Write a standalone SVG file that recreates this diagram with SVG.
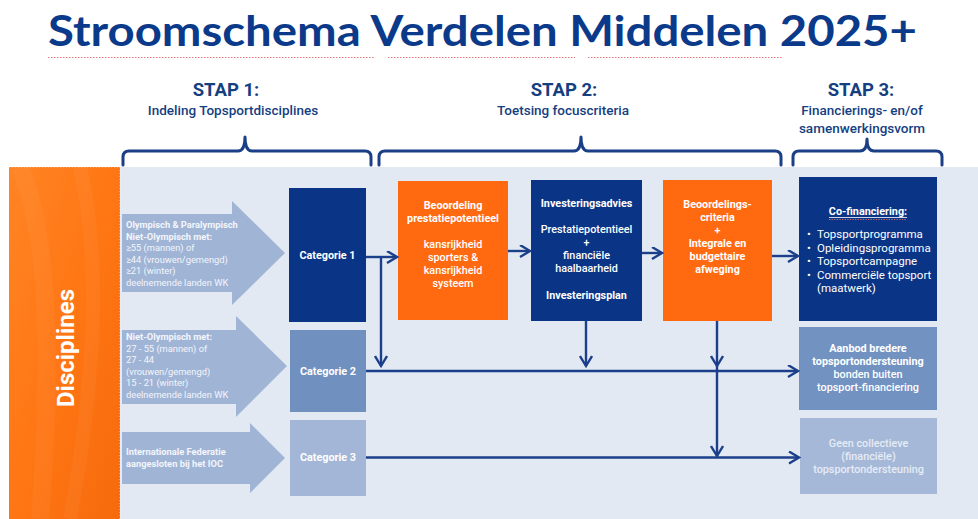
<svg xmlns="http://www.w3.org/2000/svg" width="978" height="519" viewBox="0 0 978 519">
<defs>
<linearGradient id="og" x1="0" y1="0" x2="1" y2="1">
<stop offset="0" stop-color="#ff8424"/>
<stop offset="0.5" stop-color="#ff7614"/>
<stop offset="1" stop-color="#f66a0c"/>
</linearGradient>
<marker id="ah" markerUnits="userSpaceOnUse" markerWidth="14" markerHeight="14" refX="11" refY="6.5" orient="auto">
<path d="M1,0.5 L11,6.5 L1,12.5" fill="none" stroke="#1b3f8b" stroke-width="2.4"/>
</marker>
<style>
.t{font-family:Roboto,"Liberation Sans",sans-serif}
.title{font-family:Lato,"Open Sans",sans-serif;font-weight:bold;font-size:42px;fill:#0b3a8a}
.stap{font-family:Roboto,"Liberation Sans",sans-serif;font-weight:bold;font-size:18.5px;fill:#15407f;text-anchor:middle}
.sub{font-family:Roboto,"Liberation Sans",sans-serif;font-weight:500;font-size:13.5px;fill:#15407f;text-anchor:middle}
.brace{fill:none;stroke:#1a3f86;stroke-width:3;stroke-linejoin:round;stroke-linecap:round}
.bigarrow{fill:#a0b4d6}
.at{font-family:Roboto,"Liberation Sans",sans-serif;font-size:9.3px;fill:#f3f6fb}
.b{font-weight:bold}
.m{font-weight:500}
.bt{font-family:Roboto,"Liberation Sans",sans-serif;font-size:10.8px;fill:#ffffff;text-anchor:middle}
.cat{font-family:Roboto,"Liberation Sans",sans-serif;font-size:10.8px;font-weight:bold;fill:#ffffff;text-anchor:middle}
.conn{fill:none;stroke:#1b3f8b;stroke-width:2.4}
.navy{fill:#0a3486}
.orange{fill:#ff6a10}
</style>
</defs>

<rect width="978" height="519" fill="#ffffff"/>

<g id="title">
<text class="title" x="48" y="46" textLength="869" lengthAdjust="spacingAndGlyphs">Stroomschema Verdelen Middelen 2025+</text>
<path d="M48,57.5 H375 M388,57.5 H575 M588,57.5 H783" stroke="#e07a7a" stroke-width="1.2" stroke-dasharray="1.5 1.5" fill="none"/>
</g>

<g id="stap1">
<text class="stap" x="226" y="96">STAP 1:</text>
<text class="sub" x="233" y="115">Indeling Topsportdisciplines</text>
<path class="brace" d="M123,165 V157 Q123,151 129,151 H238 Q245,151 245,137 Q245,151 252,151 H365 Q371,151 371,157 V165"/>
</g>
<g id="stap2">
<text class="stap" x="564" y="96">STAP 2:</text>
<text class="sub" x="563" y="115">Toetsing focuscriteria</text>
<path class="brace" d="M379,165 V157 Q379,151 385,151 H574 Q581,151 581,137 Q581,151 588,151 H775 Q781,151 781,157 V165"/>
</g>
<g id="stap3">
<text class="stap" x="861" y="96">STAP 3:</text>
<text class="sub" x="862" y="115">Financierings- en/of</text>
<text class="sub" x="862" y="133">samenwerkingsvorm</text>
<path class="brace" d="M793,165 V157 Q793,151 799,151 H860 Q867,151 867,139 Q867,151 874,151 H936 Q942,151 942,157 V165"/>
</g>

<rect x="120" y="167" width="858" height="352" fill="#e3e9f2"/>

<g id="disciplines">
<rect x="9" y="167" width="111" height="352" fill="url(#og)"/>
<path d="M20,167 Q60,260 40,519" stroke="#ffffff" stroke-opacity="0.04" stroke-width="18" fill="none"/>
<path d="M80,167 Q110,300 70,519" stroke="#ffffff" stroke-opacity="0.04" stroke-width="14" fill="none"/>
<path d="M9,167 H120 V519" stroke="#ffffff" stroke-opacity="0.6" stroke-width="1" stroke-dasharray="1 2" fill="none"/>
<text class="t" x="0" y="0" transform="translate(74,348) rotate(-90)" font-size="24" font-weight="bold" fill="#ffffff" text-anchor="middle">Disciplines</text>
</g>

<g id="arrow1">
<path class="bigarrow" d="M122,214 H232 V201 L285,253 L232,305 V292 H122 Z"/>
<text class="at" x="126">
<tspan x="126" y="228" class="b">Olympisch &amp; Paralympisch</tspan>
<tspan x="126" y="239.5" class="b">Niet-Olympisch met:</tspan>
<tspan x="126" y="251">≥55 (mannen) of</tspan>
<tspan x="126" y="262.5">≥44 (vrouwen/gemengd)</tspan>
<tspan x="126" y="274">≥21 (winter)</tspan>
<tspan x="126" y="285.5">deelnemende landen WK</tspan>
</text>
</g>

<g id="arrow2">
<path class="bigarrow" d="M122,330 H236 V316 L287,366 L236,417 V404 H122 Z"/>
<text class="at" x="126">
<tspan x="126" y="340" class="b">Niet-Olympisch met:</tspan>
<tspan x="126" y="351.5">27 - 55 (mannen) of</tspan>
<tspan x="126" y="363">27 - 44</tspan>
<tspan x="126" y="374.5">(vrouwen/gemengd)</tspan>
<tspan x="126" y="386">15 - 21 (winter)</tspan>
<tspan x="126" y="397.5">deelnemende landen WK</tspan>
</text>
</g>

<g id="arrow3">
<path class="bigarrow" d="M122,432 H250 V423 L285,458 L250,493 V484 H122 Z"/>
<text class="at b" x="126">
<tspan x="126" y="455">Internationale Federatie</tspan>
<tspan x="126" y="467">aangesloten bij het IOC</tspan>
</text>
</g>

<g id="categorie1">
<rect class="navy" x="289" y="188" width="77" height="134"/>
<text class="cat" x="327.5" y="259">Categorie 1</text>
</g>
<g id="categorie2">
<rect x="290" y="330" width="76" height="82" fill="#7090c0"/>
<text class="cat" x="328" y="375">Categorie 2</text>
</g>
<g id="categorie3">
<rect x="290" y="420" width="76" height="76" fill="#a3b6d7"/>
<text class="cat" x="328" y="461">Categorie 3</text>
</g>

<g id="beoordeling">
<rect class="orange" x="398" y="181" width="110" height="139"/>
<text class="bt b"><tspan x="453" y="209">Beoordeling</tspan><tspan x="453" y="222">prestatiepotentieel</tspan></text>
<text class="bt m" font-size="11.2"><tspan x="453" y="248">kansrijkheid</tspan><tspan x="453" y="261">sporters &amp;</tspan><tspan x="453" y="274">kansrijkheid</tspan><tspan x="453" y="287">systeem</tspan></text>
</g>

<g id="investeringsadvies">
<rect class="navy" x="531" y="180" width="111" height="141"/>
<text class="bt b"><tspan x="586.5" y="207">Investeringsadvies</tspan></text>
<text class="bt m" font-size="11.2"><tspan x="586.5" y="233">Prestatiepotentieel</tspan><tspan x="586.5" y="246">+</tspan><tspan x="586.5" y="259">financiële</tspan><tspan x="586.5" y="272">haalbaarheid</tspan></text>
<text class="bt b"><tspan x="586.5" y="299">Investeringsplan</tspan></text>
</g>

<g id="beoordelingscriteria">
<rect class="orange" x="663" y="180" width="109" height="141"/>
<text class="bt b"><tspan x="717.5" y="208">Beoordelings-</tspan><tspan x="717.5" y="221">criteria</tspan><tspan x="717.5" y="234">+</tspan><tspan x="717.5" y="247">Integrale en</tspan><tspan x="717.5" y="260">budgettaire</tspan><tspan x="717.5" y="273">afweging</tspan></text>
</g>

<g id="cofinanciering">
<rect class="navy" x="799" y="177" width="138" height="144"/>
<text class="bt b" x="868" y="215">Co-financiering:</text>
<path d="M829,217.5 H907" stroke="#ffffff" stroke-width="0.8"/>
<path d="M829,219.5 H907" stroke="#e06a6a" stroke-width="0.9" stroke-dasharray="1.3 1.3"/>
<g class="t" font-size="11.5" fill="#ffffff">
<text x="807" y="238">•</text><text x="817" y="238">Topsportprogramma</text>
<text x="807" y="251.5">•</text><text x="817" y="251.5">Opleidingsprogramma</text>
<text x="807" y="265">•</text><text x="817" y="265">Topsportcampagne</text>
<text x="807" y="278.5">•</text><text x="817" y="278.5">Commerciële topsport</text>
<text x="817" y="292">(maatwerk)</text>
</g>
</g>

<g id="aanbod">
<rect x="799" y="327" width="138" height="83" fill="#7292c2"/>
<text class="bt b"><tspan x="868" y="352">Aanbod bredere</tspan><tspan x="868" y="365">topsportondersteuning</tspan></text>
<text class="bt m"><tspan x="868" y="378">bonden buiten</tspan><tspan x="868" y="391">topsport-financiering</tspan></text>
</g>

<g id="geen">
<rect x="800" y="418" width="137" height="76" fill="#a5b8d8"/>
<text class="bt m" style="fill:#e6ecf5"><tspan x="868.5" y="447">Geen collectieve</tspan><tspan x="868.5" y="460">(financiële)</tspan><tspan x="868.5" y="473">topsportondersteuning</tspan></text>
</g>

<g id="connectors">
<path class="conn" d="M366,257 H397" marker-end="url(#ah)"/>
<path class="conn" d="M381,257 V366" marker-end="url(#ah)"/>
<path class="conn" d="M508,251 H530" marker-end="url(#ah)"/>
<path class="conn" d="M642,253 H662" marker-end="url(#ah)"/>
<path class="conn" d="M772,256 H798" marker-end="url(#ah)"/>
<path class="conn" d="M586,321 V366" marker-end="url(#ah)"/>
<path class="conn" d="M717,321 V366" marker-end="url(#ah)"/>
<path class="conn" d="M717,366 V456" marker-end="url(#ah)"/>
<path class="conn" d="M366,371 H798" marker-end="url(#ah)"/>
<path class="conn" d="M366,457.5 H799" marker-end="url(#ah)"/>
</g>
</svg>
